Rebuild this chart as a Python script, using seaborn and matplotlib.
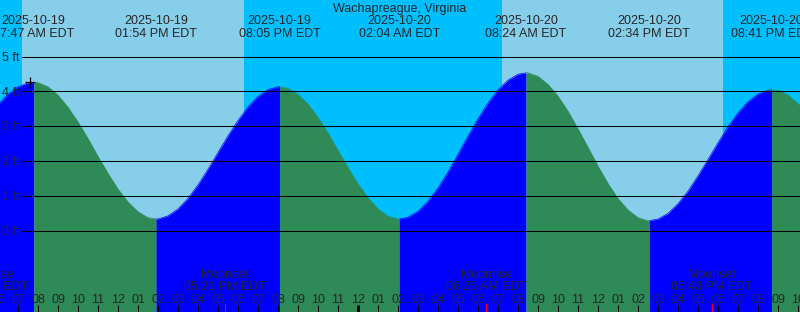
import numpy as np
import pandas as pd
import matplotlib
matplotlib.use("Agg")
import matplotlib.pyplot as plt
import seaborn as sns
from matplotlib.transforms import blended_transform_factory

# ---------------- data ----------------
station = "Wachapreague, Virginia"

# tide extremes (hours since 2025-10-19 00:00 EDT)
tide_hours = [7.783, 13.9, 20.083, 26.067, 32.4, 38.567, 44.683]
tide_heights = [4.26, 0.33, 4.13, 0.33, 4.53, 0.28, 4.04]
tide_dates = ["2025-10-19", "2025-10-19", "2025-10-19",
              "2025-10-20", "2025-10-20", "2025-10-20", "2025-10-20"]
tide_times = ["07:47 AM EDT", "01:54 PM EDT", "08:05 PM EDT", "02:04 AM EDT",
              "08:24 AM EDT", "02:34 PM EDT", "08:41 PM EDT"]

# tide level every half hour, from 06:00 (10-19) to 23:00 (10-20)
curve_hours = list(np.arange(6.0, 47.01, 0.5))
curve_heights = [
    3.61, 3.91, 4.13, 4.24, 4.25, 4.13, 3.89, 3.54, 3.12, 2.64,
    2.13, 1.64, 1.19, 0.82, 0.54, 0.37, 0.33, 0.42, 0.62, 0.92,
    1.31, 1.76, 2.24, 2.72, 3.16, 3.55, 3.85, 4.05, 4.13, 4.08,
    3.91, 3.63, 3.25, 2.80, 2.30, 1.81, 1.34, 0.94, 0.62, 0.41,
    0.33, 0.38, 0.55, 0.84, 1.22, 1.68, 2.19, 2.71, 3.21, 3.66,
    4.04, 4.32, 4.49, 4.53, 4.43, 4.20, 3.86, 3.43, 2.92, 2.39,
    1.85, 1.35, 0.92, 0.59, 0.37, 0.28, 0.33, 0.49, 0.77, 1.13,
    1.57, 2.04, 2.52, 2.98, 3.38, 3.70, 3.92, 4.03, 4.03, 3.89,
    3.65, 3.32, 2.92,
]

# sun
sunrise_hours = [7.2, 31.2]
sunset_hours = [18.3, 42.25]

# moon
moon_hours = [5.483, 17.35, 30.417, 41.717]
moon_labels = ["Moonrise", "Moonset", "Moonrise", "Moonset"]
moon_times = ["05:29 AM EDT", "05:21 PM EDT", "06:25 AM EDT", "05:43 PM EDT"]

# current level marker
now_hour = 7.6
now_height = 4.28

height_ticks = [0, 1, 2, 3, 4, 5]
hour_ticks = list(range(6, 47))
midnight_hours = [24]

# ---------------- layout ----------------
W, H = 800, 312
px_per_ft = 34.8
zero_px = 230.5
x0, x1 = 6.1, 46.1
y_bot = -(H - zero_px) / px_per_ft
y_top = zero_px / px_per_ft

NIGHT = "#00BFFF"
DAY = "#87CEEB"
RISE = "#0000FF"
FALL = "#2E8B57"

sns.set_style("white")
plt.rcParams["font.family"] = ["Liberation Sans", "DejaVu Sans"]
FS = 9

fig = plt.figure(figsize=(W / 100, H / 100), dpi=100)
ax = fig.add_axes([0, 0, 1, 1])

bx = blended_transform_factory(ax.transData, ax.transAxes)
by = blended_transform_factory(ax.transAxes, ax.transData)


def fy(px):
    return 1 - px / H


# day / night background
edges = sorted([(t, "rise") for t in sunrise_hours] + [(t, "set") for t in sunset_hours])
start = x0 - 2
state_day = edges[0][1] == "set"
for t, kind in edges:
    ax.axvspan(start, t, color=DAY if state_day else NIGHT, lw=0, zorder=0)
    start = t
    state_day = kind == "rise"
ax.axvspan(start, x1 + 2, color=DAY if state_day else NIGHT, lw=0, zorder=0)

# build tide curve table, split into rising / falling segments
pts = pd.DataFrame({"t": curve_hours + tide_hours,
                    "h": curve_heights + tide_heights}).sort_values("t")
bounds = [curve_hours[0]] + tide_hours + [curve_hours[-1]]
rows = []
for i in range(len(bounds) - 1):
    a, b = bounds[i], bounds[i + 1]
    phase = "rising" if i % 2 == 0 else "falling"
    seg = pts[(pts.t >= a) & (pts.t <= b)]
    for t, h in zip(seg.t, seg.h):
        rows.append({"t": t, "h": h, "seg": i, "phase": phase})
df = pd.DataFrame(rows)

for sid, seg in df.groupby("seg"):
    col = RISE if seg.phase.iloc[0] == "rising" else FALL
    ax.fill_between(seg.t, seg.h, y_bot - 1, color=col, lw=0, zorder=1)
sns.lineplot(data=df, x="t", y="h", hue="phase", units="seg", estimator=None,
             palette={"rising": RISE, "falling": FALL}, legend=False,
             lw=0.5, ax=ax, zorder=1.5)
ax.set_xlim(x0, x1)
ax.set_ylim(y_bot, y_top)
ax.axis("off")

# grid lines and height labels
for v in height_ticks:
    ax.axhline(v, xmin=22 / W, xmax=1, color="black", lw=0.75, zorder=2)
    ax.text(2 / W, v - 4.3 / px_per_ft, f"{v} ft", transform=by,
            ha="left", va="baseline", fontsize=FS, zorder=3)

# current marker
ax.plot([now_hour], [now_height], marker="+", ms=6.5, mew=0.9, color="black", zorder=3)

# title and tide labels
ax.text(0.5, fy(12.3), station, transform=ax.transAxes, ha="center",
        va="baseline", fontsize=FS, zorder=3)
for t, d, tm in zip(tide_hours, tide_dates, tide_times):
    ax.text(t, fy(24), d, transform=bx, ha="center", va="baseline", fontsize=FS, zorder=3)
    ax.text(t, fy(36.7), tm, transform=bx, ha="center", va="baseline", fontsize=FS, zorder=3)

# hour labels and ticks
for h in hour_ticks:
    lab = f"{(h % 12) or 12:02d}"
    ax.text(h, fy(302.7), lab, transform=bx, ha="center", va="baseline",
            fontsize=FS, zorder=3)
    lw = 2.2 if h in midnight_hours else 0.75
    ax.plot([h, h], [0, 7.5 / H], transform=bx, color="black", lw=lw,
            solid_capstyle="butt", zorder=3)

# moon events
for t, lab, tm in zip(moon_hours, moon_labels, moon_times):
    ax.text(t, fy(278), lab, transform=bx, ha="center", va="baseline", fontsize=FS, zorder=3)
    ax.text(t, fy(289.7), tm, transform=bx, ha="center", va="baseline", fontsize=FS, zorder=3)
    ax.plot([t, t], [0, 9 / H], transform=bx, color="red", lw=0.75,
            solid_capstyle="butt", zorder=3)

fig.savefig("out.png", dpi=100)
